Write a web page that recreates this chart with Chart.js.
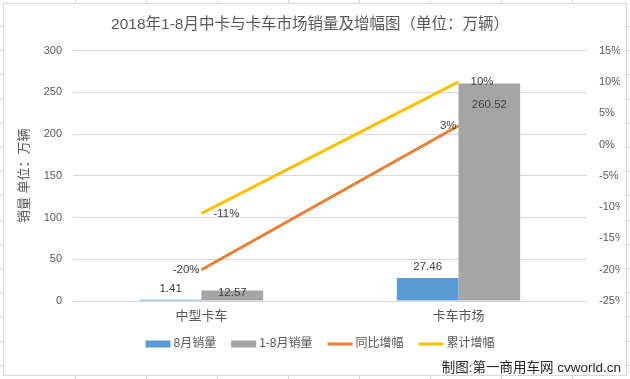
<!DOCTYPE html>
<html><head><meta charset="utf-8">
<script src="https://cdn.jsdelivr.net/npm/chart.js@4.4.1/dist/chart.umd.min.js"></script>
<style>html,body{margin:0;padding:0;background:#fff;}#wrap{width:630px;height:379px;}</style>
</head><body><div id="wrap"><canvas id="c" width="630" height="379"></canvas></div>
<script>
const categories = ['中型卡车', '卡车市场'];
const augSales = [1.41, 27.46];
const ytdSales = [12.57, 260.52];
const yoyGrowth = [-20, 3];
const ytdGrowth = [-11, 10];
const seriesNames = ['8月销量', '1-8月销量', '同比增幅', '累计增幅'];
const titleText = '2018年1-8月中卡与卡车市场销量及增幅图（单位：万辆）';
const leftAxisTitle = '销量 单位：万辆';
const footnote = '制图:第一商用车网 cvworld.cn';

const COLORS = ['#5B9BD5', '#A5A5A5', '#ED7D31', '#FFC000'];
const FONT = '"Liberation Sans", "Noto Sans CJK SC", sans-serif';
const TXT = '#595959';

const sheetPlugin = {
  id: 'sheet',
  beforeDraw(chart) {
    const ctx = chart.ctx;
    ctx.save();
    ctx.fillStyle = '#fff';
    ctx.fillRect(0, 0, chart.width, chart.height);
    ctx.strokeStyle = '#d4d4d4';
    ctx.lineWidth = 1;
    ctx.beginPath();
    for (let x = 75; x < 630; x += 71) {
      ctx.moveTo(x + 0.5, 0); ctx.lineTo(x + 0.5, 3);
      ctx.moveTo(x + 0.5, 376); ctx.lineTo(x + 0.5, 379);
    }
    for (let y = 26; y < 379; y += 24.2) {
      ctx.moveTo(0, Math.round(y) + 0.5); ctx.lineTo(3, Math.round(y) + 0.5);
      ctx.moveTo(627, Math.round(y) + 0.5); ctx.lineTo(630, Math.round(y) + 0.5);
    }
    ctx.stroke();
    ctx.strokeStyle = '#d9d9d9';
    ctx.strokeRect(3.5, 3.5, 623, 372);
    ctx.restore();
  }
};

const labelPlugin = {
  id: 'valueLabels',
  afterDatasetsDraw(chart) {
    const ctx = chart.ctx;
    ctx.save();
    ctx.font = '11.5px ' + FONT;
    ctx.fillStyle = '#404040';
    ctx.textBaseline = 'middle';
    chart.data.datasets.forEach((ds, i) => {
      const meta = chart.getDatasetMeta(i);
      meta.data.forEach((el, j) => {
        const v = ds.data[j];
        let txt, x = el.x, y = el.y;
        if (i === 0) { ctx.textAlign = 'center'; txt = v.toFixed(2); y = el.y - 11; }
        else if (i === 1) { ctx.textAlign = 'center'; txt = v.toFixed(2); y = Math.min(el.y + 21, el.base - 8); }
        else if (i === 2) { ctx.textAlign = 'right'; txt = v + '%'; x = el.x - 2; }
        else { ctx.textAlign = 'left'; txt = v + '%'; x = el.x + 12; }
        ctx.fillText(txt, x, y);
      });
    });
    ctx.restore();
  }
};

const legendPlugin = {
  id: 'customLegend',
  afterDraw(chart) {
    const ctx = chart.ctx;
    ctx.save();
    ctx.font = '12px ' + FONT;
    ctx.textBaseline = 'middle';
    ctx.textAlign = 'left';
    const sw = 25, gap = 3, itemGap = 15, y = 344;
    const widths = chart.data.datasets.map(d => sw + gap + ctx.measureText(d.label).width);
    const total = widths.reduce((a, b) => a + b, 0) + itemGap * (widths.length - 1);
    let x = 320 - total / 2;
    chart.data.datasets.forEach((d, i) => {
      ctx.fillStyle = COLORS[i];
      if (d.type === 'line') ctx.fillRect(x, y - 1.5, sw, 3);
      else ctx.fillRect(x, y - 3.5, sw, 7);
      ctx.fillStyle = TXT;
      ctx.fillText(d.label, x + sw + gap, y);
      x += widths[i] + itemGap;
    });
    ctx.font = '13.5px ' + FONT;
    ctx.fillStyle = '#262626';
    ctx.textAlign = 'right';
    ctx.fillText(footnote, 621, 368);
    ctx.restore();
  }
};

new Chart(document.getElementById('c'), {
  data: {
    labels: categories,
    datasets: [
      { type: 'bar', label: seriesNames[0], data: augSales, backgroundColor: COLORS[0], yAxisID: 'y', order: 2 },
      { type: 'bar', label: seriesNames[1], data: ytdSales, backgroundColor: COLORS[1], yAxisID: 'y', order: 2 },
      { type: 'line', label: seriesNames[2], data: yoyGrowth, borderColor: COLORS[2], borderWidth: 3, pointRadius: 0, yAxisID: 'y1', order: 1 },
      { type: 'line', label: seriesNames[3], data: ytdGrowth, borderColor: COLORS[3], borderWidth: 3, pointRadius: 0, yAxisID: 'y1', order: 0 }
    ]
  },
  options: {
    responsive: false,
    animation: false,
    devicePixelRatio: 1,
    layout: { padding: { left: 0, right: 10, top: 0, bottom: 48 } },
    datasets: { bar: { categoryPercentage: 0.48, barPercentage: 1 } },
    plugins: {
      legend: { display: false },
      tooltip: { enabled: false },
      title: {
        display: true, text: titleText, color: TXT,
        font: { family: FONT, size: 15.5, weight: 'normal' },
        padding: { top: 15, bottom: 17 }
      }
    },
    scales: {
      x: {
        grid: { display: false, drawTicks: false },
        border: { display: false },
        ticks: { color: TXT, font: { family: FONT, size: 13 }, padding: 8 },
        afterFit(s) { s.height = 30; }
      },
      y: {
        position: 'left', min: 0, max: 300,
        ticks: { stepSize: 50, color: TXT, font: { family: FONT, size: 11 }, padding: 11 },
        grid: { color: '#d9d9d9', drawTicks: false },
        border: { display: false },
        title: { display: true, text: leftAxisTitle, color: TXT, font: { family: FONT, size: 13 }, padding: { top: 17, bottom: 0 } },
        afterFit(s) { s.width = 73; }
      },
      y1: {
        position: 'right', min: -25, max: 15,
        ticks: { stepSize: 5, color: TXT, font: { family: FONT, size: 11 }, padding: 12, callback: v => v + '%' },
        grid: { display: false, drawTicks: false },
        border: { display: false },
        afterFit(s) { s.width = 33; }
      }
    }
  },
  plugins: [sheetPlugin, labelPlugin, legendPlugin]
});
</script>
</body></html>
